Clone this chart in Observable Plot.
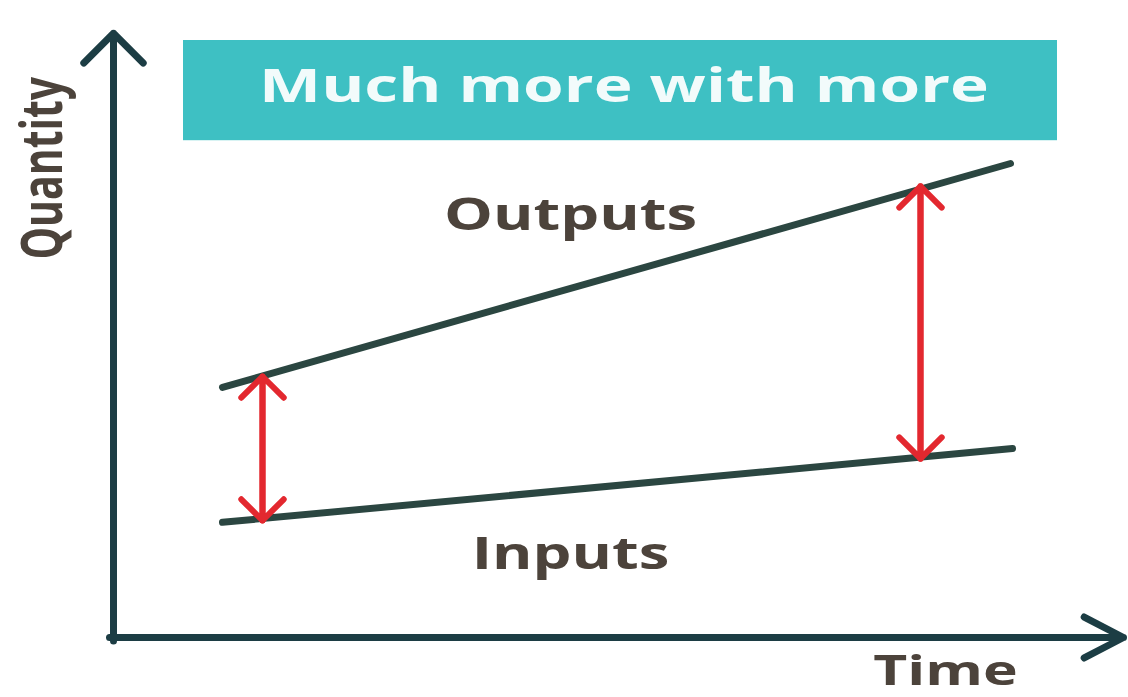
<!DOCTYPE html>
<html><head><meta charset="utf-8">
<script src="https://cdn.jsdelivr.net/npm/d3@7"></script>
<script src="https://cdn.jsdelivr.net/npm/@observablehq/plot@0.6"></script>
<style>body{margin:0;background:#fff}</style>
</head><body><div id="chart"></div>
<script>
// Series (time, quantity) in chart units
const outputs = [{t: 10.9, q: 41.7}, {t: 89.7, q: 79}];
const inputs = [{t: 10.9, q: 19.2}, {t: 89.9, q: 31.5}];
// Gap arrows (quantity difference at two times)
const gaps = [{t: 14.9, lo: 19.5, hi: 43.5}, {t: 80.7, lo: 29.8, hi: 75.2}];
// Axis arrows
const yAxisArrow = [{x1: 0, y1: -0.6, x2: 0, y2: 100.7}];
const xAxisArrow = [{x1: -0.4, y1: 0, x2: 101, y2: 0}];
// Title box and its text
const titleBox = [{x1: 7, x2: 94.4, y1: 82.8, y2: 99.5}];
const titleText = [{t: 51.05, q: 91.8, label: "Much more with more"}];
// Labels
const seriesLabels = [{t: 45.7, q: 70.3, label: "Outputs"}, {t: 45.7, q: 13.7, label: "Inputs"}];
const axisLabels = [{t: 83.2, q: -5.75, label: "Time", rotate: 0, size: 42}, {t: -7.0, q: 78.2, label: "Quantity", rotate: -90, size: 41}];

const axisColor = "#1c3d44";
const lineColor = "#2b4641";
const red = "#e3282f";
const labelColor = "#4c433b";
const font = "'Open Sans', sans-serif";
const stretch = 1.4; // horizontal stretch of the lettering

const chart = Plot.plot({
  width: 1128, height: 697,
  marginLeft: 113, marginRight: 15, marginTop: 37, marginBottom: 60,
  x: {domain: [0, 100], axis: null},
  y: {domain: [0, 100], axis: null},
  style: {background: "#fff", fontFamily: font},
  marks: [
    Plot.rect(titleBox, {x1: "x1", x2: "x2", y1: "y1", y2: "y2", fill: "#3ec0c3"}),
    Plot.text(titleText, {x: "t", y: "q", text: "label", fill: "#f2fbfb", fontSize: 47, fontWeight: 700}),
    Plot.line(outputs, {x: "t", y: "q", stroke: lineColor, strokeWidth: 7}),
    Plot.line(inputs, {x: "t", y: "q", stroke: lineColor, strokeWidth: 7}),
    Plot.arrow(gaps, {x: "t", y1: "lo", y2: "hi", stroke: red, strokeWidth: 6, headLength: 7.5, headAngle: 90}),
    Plot.arrow(gaps, {x: "t", y1: "hi", y2: "lo", stroke: red, strokeWidth: 6, headLength: 7.5, headAngle: 90}),
    Plot.arrow(yAxisArrow, {x1: "x1", y1: "y1", x2: "x2", y2: "y2", stroke: axisColor, strokeWidth: 7, headLength: 9, headAngle: 90}),
    Plot.arrow(xAxisArrow, {x1: "x1", y1: "y1", x2: "x2", y2: "y2", stroke: axisColor, strokeWidth: 7, headLength: 9.5, headAngle: 55}),
    Plot.text(seriesLabels, {x: "t", y: "q", text: "label", fill: labelColor, fontSize: 44, fontWeight: 700}),
    Plot.text(axisLabels, {x: "t", y: "q", text: "label", rotate: "rotate", fill: labelColor, fontSize: "size", fontWeight: 700})
  ]
});
document.getElementById("chart").append(chart);

// Stretch lettering horizontally (in screen space) about each text's anchor
d3.select(chart).selectAll("text").each(function () {
  const tr = this.getAttribute("transform") || "";
  const m = tr.match(/translate\(\s*([-\d.e]+)[ ,]+([-\d.e]+)\s*\)/);
  let ax, ay;
  if (m) { ax = +m[1]; ay = +m[2]; }
  else { ax = +(this.getAttribute("x") || 0); ay = +(this.getAttribute("y") || 0); }
  const g = document.createElementNS("http://www.w3.org/2000/svg", "g");
  g.setAttribute("transform", `translate(${ax},${ay}) scale(${stretch},1) translate(${-ax},${-ay})`);
  this.parentNode.insertBefore(g, this);
  g.appendChild(this);
});
</script>
</body></html>
